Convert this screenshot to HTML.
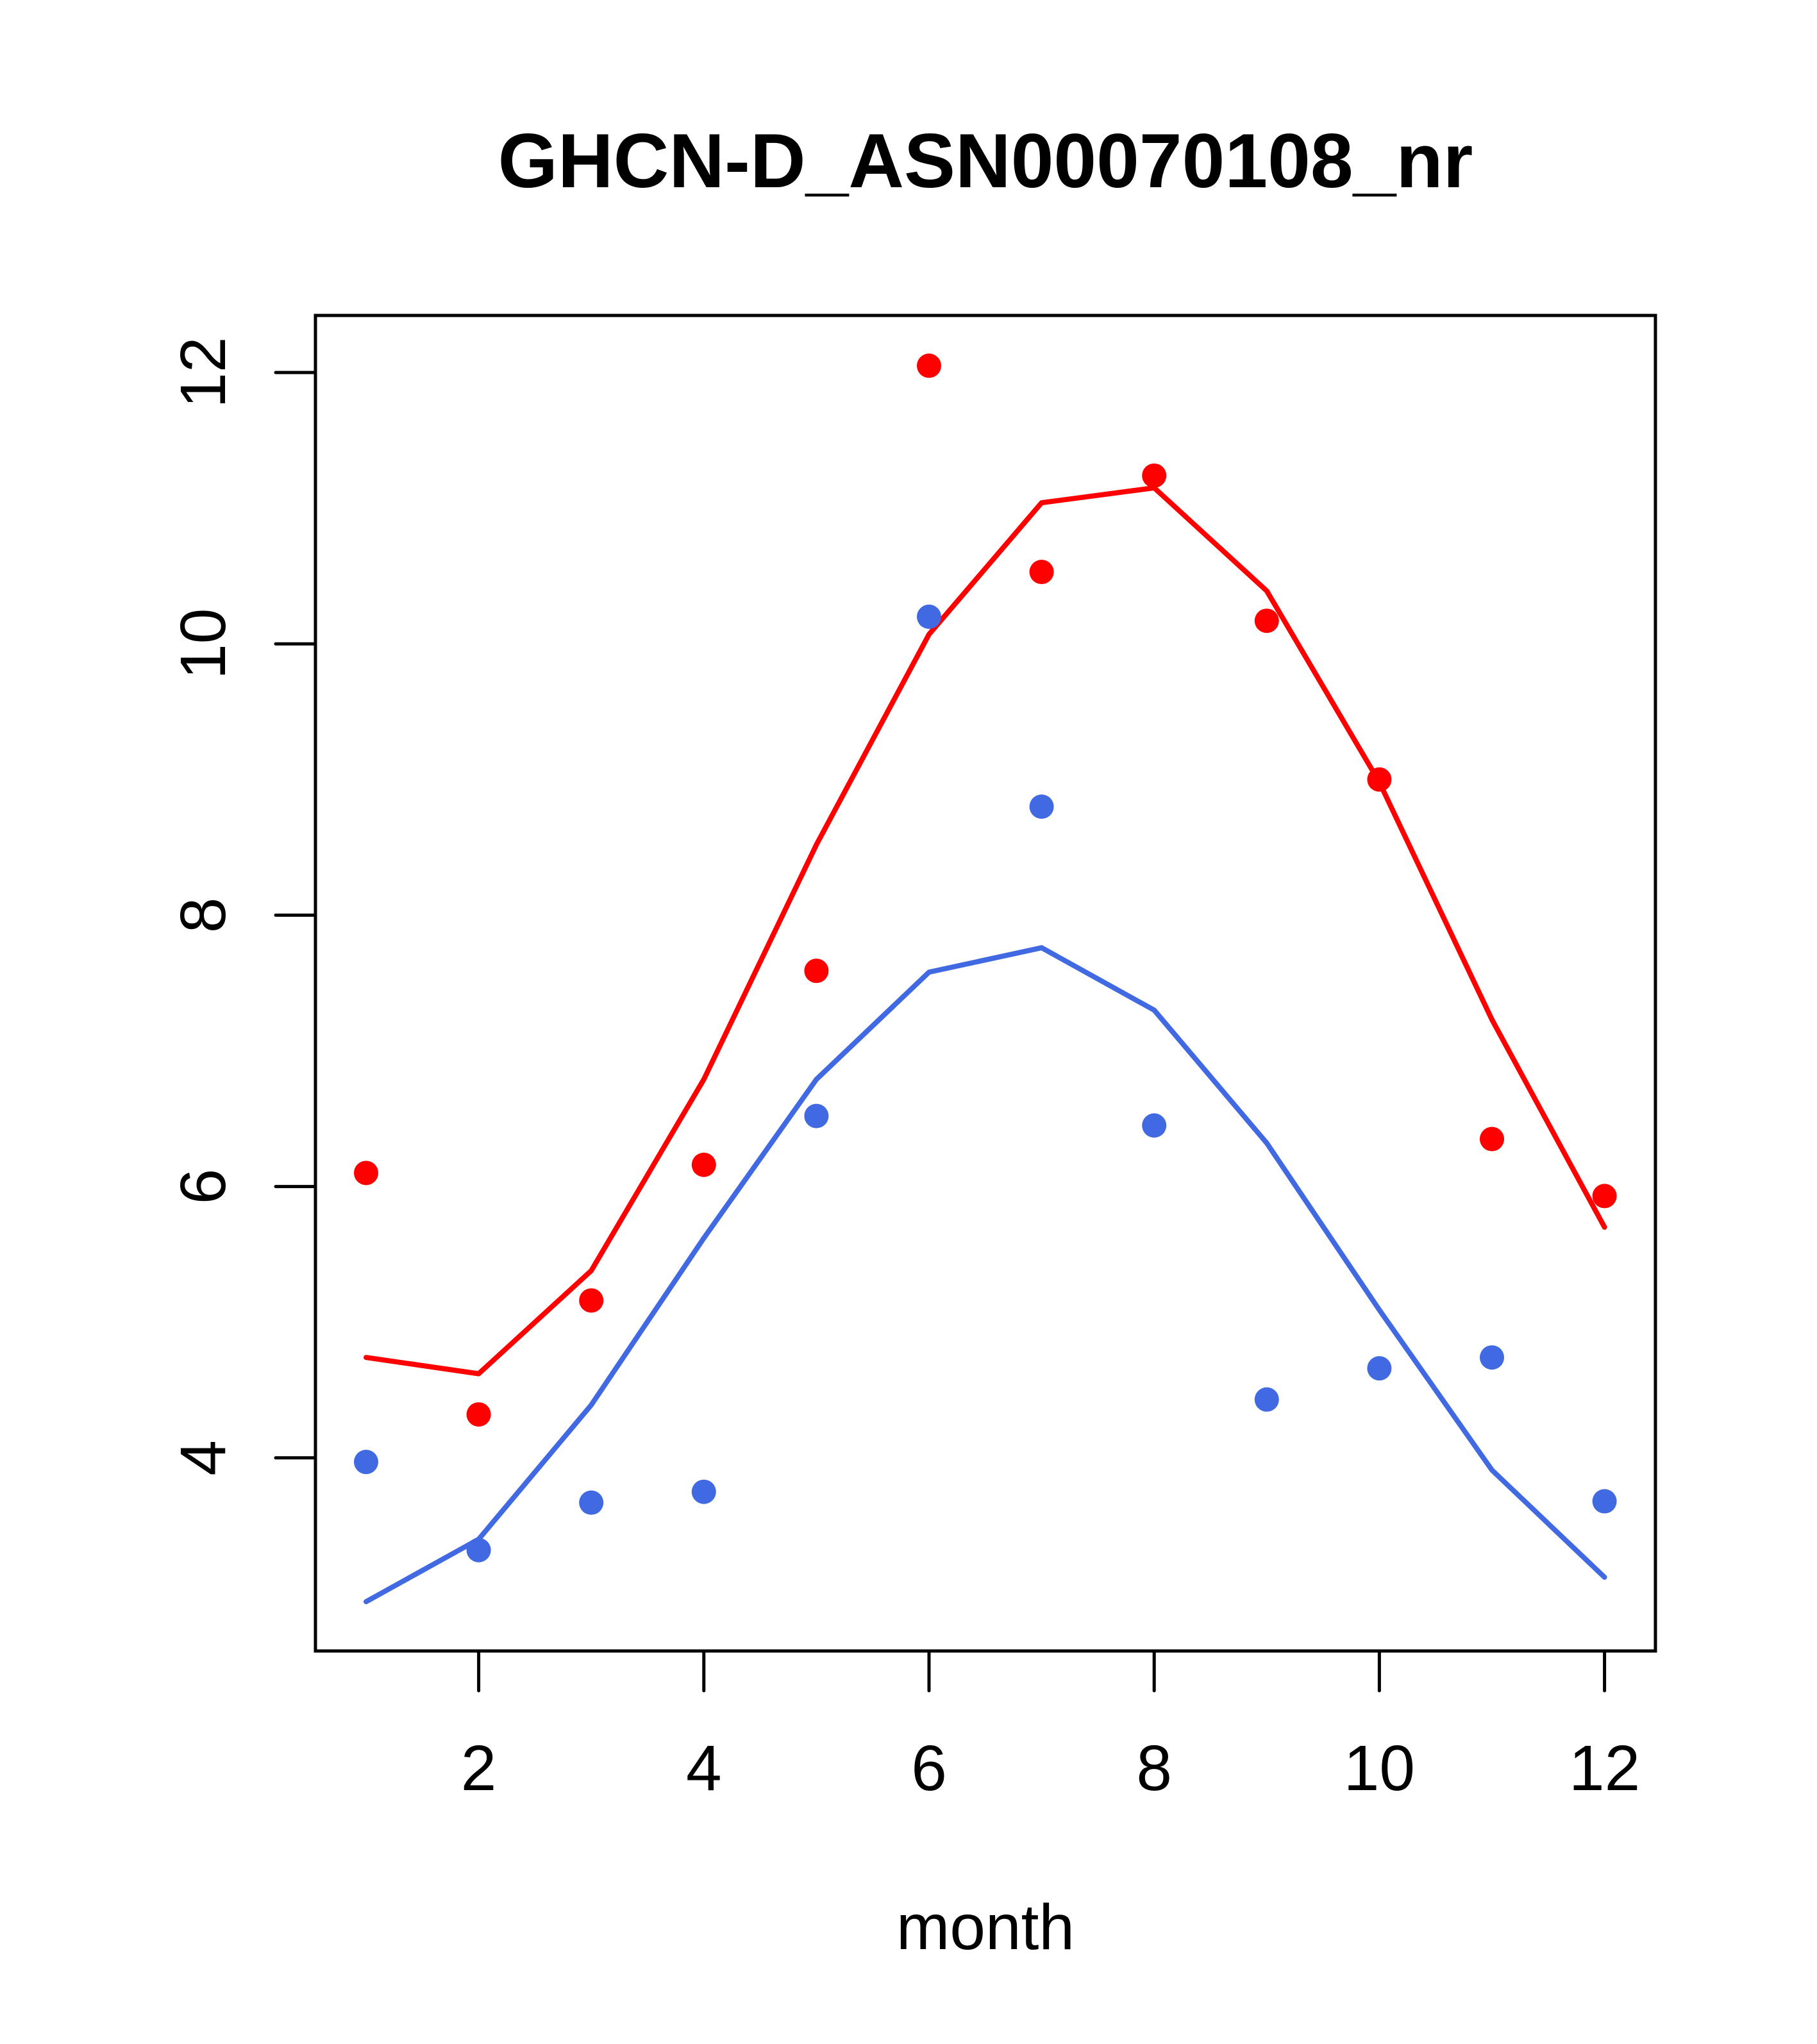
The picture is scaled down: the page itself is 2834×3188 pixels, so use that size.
<!DOCTYPE html>
<html><head><meta charset="utf-8"><style>body{margin:0;background:#fff}svg{display:block}</style></head>
<body>
<svg id="chart" width="2834" height="3188" viewBox="0 0 2834 3188" xmlns="http://www.w3.org/2000/svg" font-family="'Liberation Sans', sans-serif">
<rect width="2834" height="3188" fill="#fff"/>
<text x="1537" y="292" font-size="120" font-weight="bold" text-anchor="middle">GHCN-D_ASN00070108_nr</text>
<text x="1537" y="3040" font-size="100" text-anchor="middle">month</text>
<g id="plot"></g>
</svg>
<script>
const months=[1,2,3,4,5,6,7,8,9,10,11,12];
const redPoints=[6.10,4.32,5.16,6.16,7.59,12.05,10.53,11.24,10.17,9.0,6.35,5.93];
const redLine=[4.74,4.62,5.38,6.79,8.52,10.07,11.04,11.15,10.39,8.98,7.23,5.70];
const bluePoints=[3.97,3.32,3.67,3.75,6.52,10.20,8.80,6.45,4.43,4.66,4.74,3.68];
const blueLine=[2.94,3.40,4.39,5.62,6.79,7.58,7.76,7.30,6.32,5.09,3.91,3.12];
const xTicks=[2,4,6,8,10,12];
const yTicks=[4,6,8,10,12];
const NS="http://www.w3.org/2000/svg";
const L=492,R=2582,T=492,B=2575;
const X=v=>571+(v-1)*175.6;
const Y=v=>581+(12-v)*211.6;
const g=document.getElementById('plot');
function mk(t,a){const e=document.createElementNS(NS,t);for(const k in a)e.setAttribute(k,a[k]);g.appendChild(e);return e;}
let e=mk('rect',{x:L,y:T,width:R-L,height:B-T,fill:'none',stroke:'#000','stroke-width':5});


xTicks.forEach(v=>{
 let t=mk('line',{x1:X(v),x2:X(v),y1:B,y2:B+62,stroke:'#000','stroke-width':5,'stroke-linecap':'round'});
 
 
 let l=mk('text',{x:X(v),y:2792,'font-size':100,'text-anchor':'middle'});l.textContent=v;
 
 
});
yTicks.forEach(v=>{
 let t=mk('line',{x1:L-62,x2:L,y1:Y(v),y2:Y(v),stroke:'#000','stroke-width':5,'stroke-linecap':'round'});
 
 
 let l=mk('text',{x:0,y:0,'font-size':100,'text-anchor':'middle',transform:`translate(351,${Y(v)}) rotate(-90)`});l.textContent=v;
 
 
});
function line(vals,col,name){
 let p=mk('polyline',{points:months.map((m,i)=>X(m)+','+Y(vals[i])).join(' '),fill:'none',stroke:col,'stroke-width':8,'stroke-linejoin':'round','stroke-linecap':'round'});
 
 
}
function pts(vals,col,name){
 months.forEach((m,i)=>{
  let c=mk('circle',{cx:X(m),cy:Y(vals[i]),r:19,fill:col});
  
  
 });
}
line(redLine,'#FF0000','red-line');
line(blueLine,'#4169E1','blue-line');
pts(redPoints,'#FF0000','red-point');
pts(bluePoints,'#4169E1','blue-point');
</script>
</body></html>
